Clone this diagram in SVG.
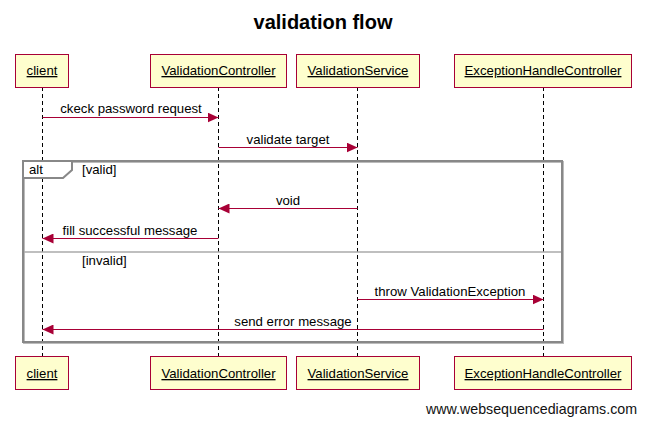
<svg xmlns="http://www.w3.org/2000/svg" width="646" height="423" viewBox="0 0 646 423">
<defs>
<style>
text{font-family:"Liberation Sans",Arial,sans-serif;font-size:13.2px;fill:#000}
.title{font-size:20px;font-weight:bold}
.box{fill:#fefece;stroke:#a80036;stroke-width:1}
.lbl{text-anchor:middle;text-decoration:underline}
.life{stroke:#000;stroke-width:1;stroke-dasharray:4,3}
.msg{stroke:#a80036;stroke-width:1;fill:none}
.ml{text-anchor:middle}
.frame{fill:none;stroke:#888;stroke-width:2}
</style>
<marker id="ah" markerWidth="12" markerHeight="10" refX="11" refY="5" orient="auto" markerUnits="userSpaceOnUse">
<path d="M0,0 L11,5 L0,10 z" fill="#a80036"/>
</marker>
</defs>
<rect width="646" height="423" fill="#fff"/>
<text class="title" x="323" y="29" text-anchor="middle">validation flow</text>

<g id="lifelines">
<line class="life" x1="42.5" y1="87" x2="42.5" y2="356"/>
<line class="life" x1="218.5" y1="87" x2="218.5" y2="356"/>
<line class="life" x1="357.5" y1="87" x2="357.5" y2="356"/>
<line class="life" x1="543.5" y1="87" x2="543.5" y2="356"/>
</g>

<g id="alt-frame">
<rect x="23" y="161" width="539" height="181" fill="none" stroke="#bbb" stroke-width="2" transform="translate(1,1)"/>
<rect class="frame" x="23" y="161" width="539" height="181"/>
<path d="M23,161 L72,161 L72,170 L63,178 L23,178 z" fill="#fff" stroke="#888" stroke-width="2"/>
<line x1="24" y1="252" x2="561" y2="252" stroke="#aaa" stroke-width="1.5"/>
<text x="29" y="174">alt</text>
<text x="82" y="174">[valid]</text>
<text x="82" y="265">[invalid]</text>
</g>

<g id="connectors">
<line class="msg" x1="42.5" y1="117.5" x2="218.5" y2="117.5" marker-end="url(#ah)"/>
<text class="ml" x="131" y="113">ckeck password request</text>
<line class="msg" x1="218.5" y1="147.5" x2="357.5" y2="147.5" marker-end="url(#ah)"/>
<text class="ml" x="288" y="144">validate target</text>
<line class="msg" x1="357.5" y1="208.5" x2="218.5" y2="208.5" marker-end="url(#ah)"/>
<text class="ml" x="288" y="205">void</text>
<line class="msg" x1="218.5" y1="238.5" x2="42.5" y2="238.5" marker-end="url(#ah)"/>
<text class="ml" x="130" y="235">fill successful message</text>
<line class="msg" x1="357.5" y1="299.5" x2="543.5" y2="299.5" marker-end="url(#ah)"/>
<text class="ml" x="450" y="296">throw ValidationException</text>
<line class="msg" x1="543.5" y1="329.5" x2="42.5" y2="329.5" marker-end="url(#ah)"/>
<text class="ml" x="293" y="326">send error message</text>
</g>

<g id="client-top"><rect class="box" x="15.5" y="54.5" width="53" height="33"/><text class="lbl" x="42" y="75">client</text></g>
<g id="vc-top"><rect class="box" x="150.5" y="54.5" width="136" height="33"/><text class="lbl" x="218.5" y="75">ValidationController</text></g>
<g id="vs-top"><rect class="box" x="296.5" y="54.5" width="123" height="33"/><text class="lbl" x="358" y="75">ValidationService</text></g>
<g id="ehc-top"><rect class="box" x="454.5" y="54.5" width="177" height="33"/><text class="lbl" x="543" y="75">ExceptionHandleController</text></g>

<g id="client-bottom"><rect class="box" x="15.5" y="356.5" width="53" height="33"/><text class="lbl" x="42" y="378">client</text></g>
<g id="vc-bottom"><rect class="box" x="150.5" y="356.5" width="136" height="33"/><text class="lbl" x="218.5" y="378">ValidationController</text></g>
<g id="vs-bottom"><rect class="box" x="296.5" y="356.5" width="123" height="33"/><text class="lbl" x="358" y="378">ValidationService</text></g>
<g id="ehc-bottom"><rect class="box" x="454.5" y="356.5" width="177" height="33"/><text class="lbl" x="543" y="378">ExceptionHandleController</text></g>

<text x="426" y="414" textLength="211" lengthAdjust="spacingAndGlyphs" style="font-size:14.5px;fill:#111">www.websequencediagrams.com</text>
</svg>
